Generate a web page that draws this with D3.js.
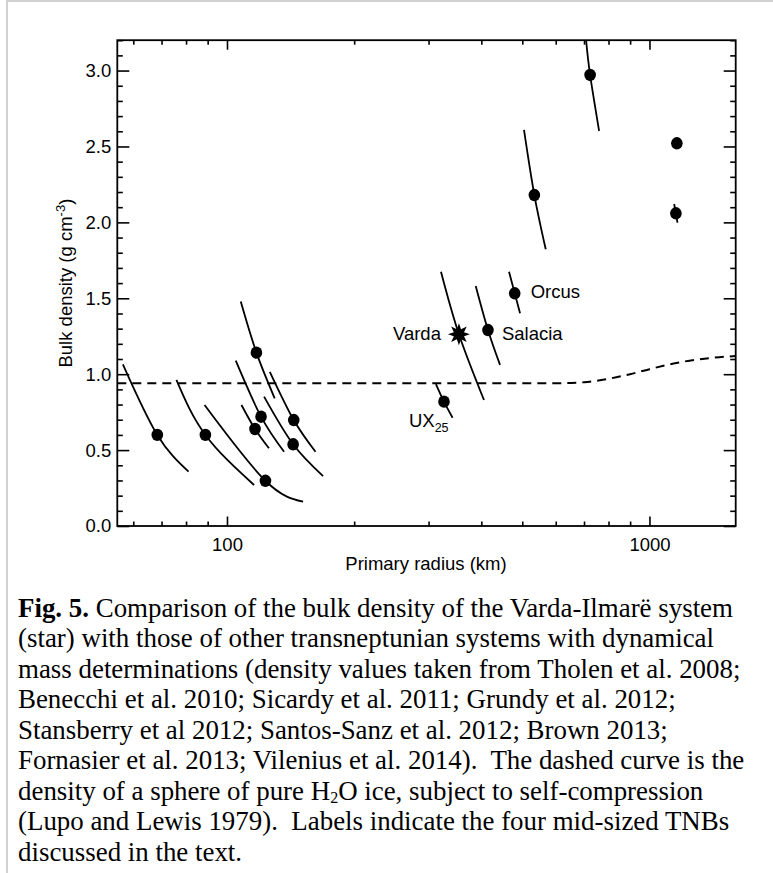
<!DOCTYPE html>
<html>
<head>
<meta charset="utf-8">
<script src="https://cdn.jsdelivr.net/npm/d3@7"></script>
<style>
  html, body { margin: 0; padding: 0; background: #fff; }
  svg { display: block; }
  text { font-family: "Liberation Sans", Arial, Helvetica, sans-serif; fill: #000; }
  .cap { font-family: "Liberation Serif", "Times New Roman", serif; }
</style>
</head>
<body>
<script>
// ---------- data ----------
// each system: [radius km, density g/cm3] for the top end of the uncertainty curve,
// the nominal point and the bottom end of the curve
const systemNames = ["A", "B", "C", "D", "E", "F", "G", "H", "UX25", "Varda", "Salacia", "Orcus", "Q", "H2", "Eris", "Pluto"];
const curveTop = [
  [56.7, 1.065], [75.9, 0.962], [88.5, 0.797], [107.8, 1.478], [104.9, 1.089], [108.2, 0.797],
  [122.4, 0.852], [126.3, 1.016], [312.3, 0.935], [321, 1.675], [387.9, 1.581], [465.1, 1.675],
  [504.7, 2.609], [707.9, 3.2], [1157, 2.55], [1144, 2.121]
];
const nominal = [
  [68.4, 0.60], [88.9, 0.60], [123.3, 0.298], [117.4, 1.142], [120.4, 0.72], [116.5, 0.639],
  [143.4, 0.538], [143.9, 0.698], [326.3, 0.819], [354, 1.263], [414.7, 1.291], [479.8, 1.533],
  [534, 2.18], [723.6, 2.971], [1161, 2.521], [1155, 2.06]
];
const curveBottom = [
  [81.1, 0.358], [115.9, 0.27], [151.4, 0.16], [129.7, 0.841], [136.5, 0.489], [125.7, 0.512],
  [168.8, 0.329], [162, 0.489], [342, 0.713], [405.8, 0.83], [442.9, 1.061], [494, 1.401],
  [568.2, 1.823], [760, 2.602], [1167, 2.49], [1165, 1.998]
];
const markerType = ["dot", "dot", "dot", "dot", "dot", "dot", "dot", "dot", "dot", "star", "dot", "dot", "dot", "dot", "dot", "dot"];

// pure water-ice sphere with self-compression (dashed)
const iceRadius  = [55, 600, 650, 700, 800, 900, 1000, 1200, 1400, 1600];
const iceDensity = [0.94, 0.94, 0.942, 0.947, 0.97, 1.0, 1.033, 1.082, 1.107, 1.12];

// labelled systems
const labelIndex = [11, 10, 9, 8];
const labelText  = ["Orcus", "Salacia", "Varda", "UX"];

const xMajor = [100, 1000];
const xMinor = [60, 70, 80, 90, 200, 300, 400, 500, 600, 700, 800, 900];
const yMajor = [0, 0.5, 1.0, 1.5, 2.0, 2.5, 3.0];
const yMinor = [0.1, 0.2, 0.3, 0.4, 0.6, 0.7, 0.8, 0.9, 1.1, 1.2, 1.3, 1.4, 1.6, 1.7, 1.8, 1.9,
                2.1, 2.2, 2.3, 2.4, 2.6, 2.7, 2.8, 2.9, 3.1, 3.2];

// caption: segments [text, style]  (b = bold, sub = subscript, n = normal)
const captionLines = [
  [["Fig. 5.", "b"], [" Comparison of the bulk density of the Varda-Ilmarë system", "n"]],
  [["(star) with those of other transneptunian systems with dynamical", "n"]],
  [["mass determinations (density values taken from Tholen et al. 2008;", "n"]],
  [["Benecchi et al. 2010; Sicardy et al. 2011; Grundy et al. 2012;", "n"]],
  [["Stansberry et al 2012; Santos-Sanz et al. 2012; Brown 2013;", "n"]],
  [["Fornasier et al. 2013; Vilenius et al. 2014).  The dashed curve is the", "n"]],
  [["density of a sphere of pure H", "n"], ["2", "sub"], ["O ice, subject to self-compression", "n"]],
  [["(Lupo and Lewis 1979).  Labels indicate the four mid-sized TNBs", "n"]],
  [["discussed in the text.", "n"]]
];

// ---------- layout ----------
const W = 773, H = 873;
const L = 117.3, R = 735.7, T = 40.2, B = 526;

const svg = d3.select("body").append("svg").attr("width", W).attr("height", H);

// outer grey frame
svg.append("rect").attr("x", 7).attr("y", 1).attr("width", W + 20).attr("height", H + 20)
  .attr("fill", "none").attr("stroke", "#c4c4c4").attr("stroke-width", 1.5);

const x = d3.scaleLog().domain([55, 1600]).range([L, R]);
const y = d3.scaleLinear().domain([0, 3.2]).range([B, T]);

svg.append("clipPath").attr("id", "clip").append("rect")
  .attr("x", L).attr("y", T).attr("width", R - L).attr("height", B - T);

// axes
const fs = 18.5;
function axisStyle(g) {
  g.select(".domain").remove();
  g.selectAll(".tick line").attr("stroke", "#000").attr("stroke-width", 1.6);
  g.selectAll(".tick text").attr("font-size", fs).attr("font-family", "Liberation Sans, Arial, sans-serif").attr("fill", "#000");
}
svg.append("g").attr("transform", `translate(0,${B})`)
  .call(d3.axisBottom(x).tickValues(xMajor).tickFormat(d3.format("d")).tickSizeInner(-9.5).tickSizeOuter(0).tickPadding(12))
  .call(axisStyle);
svg.append("g").attr("transform", `translate(0,${B})`)
  .call(d3.axisBottom(x).tickValues(xMinor).tickFormat("").tickSizeInner(-4.5).tickSizeOuter(0))
  .call(axisStyle);
svg.append("g").attr("transform", `translate(0,${T})`)
  .call(d3.axisTop(x).tickValues(xMajor).tickFormat("").tickSizeInner(-9.5).tickSizeOuter(0))
  .call(axisStyle);
svg.append("g").attr("transform", `translate(0,${T})`)
  .call(d3.axisTop(x).tickValues(xMinor).tickFormat("").tickSizeInner(-4.5).tickSizeOuter(0))
  .call(axisStyle);
svg.append("g").attr("transform", `translate(${L},0)`)
  .call(d3.axisLeft(y).tickValues(yMajor).tickFormat(d3.format(".1f")).tickSizeInner(-12).tickSizeOuter(0).tickPadding(6))
  .call(axisStyle);
svg.append("g").attr("transform", `translate(${L},0)`)
  .call(d3.axisLeft(y).tickValues(yMinor).tickFormat("").tickSizeInner(-5.5).tickSizeOuter(0))
  .call(axisStyle);
svg.append("g").attr("transform", `translate(${R},0)`)
  .call(d3.axisRight(y).tickValues(yMajor).tickFormat("").tickSizeInner(-12).tickSizeOuter(0))
  .call(axisStyle);
svg.append("g").attr("transform", `translate(${R},0)`)
  .call(d3.axisRight(y).tickValues(yMinor).tickFormat("").tickSizeInner(-5.5).tickSizeOuter(0))
  .call(axisStyle);

// plot frame
svg.append("rect").attr("x", L).attr("y", T).attr("width", R - L).attr("height", B - T)
  .attr("fill", "none").attr("stroke", "#000").attr("stroke-width", 1.8);

// axis titles
svg.append("text").attr("x", (L + R) / 2 - 0.5).attr("y", 570).attr("text-anchor", "middle")
  .attr("font-size", fs).text("Primary radius (km)");
const yl = svg.append("text").attr("transform", `translate(72,${(T + B) / 2}) rotate(-90)`)
  .attr("text-anchor", "middle").attr("font-size", fs);
yl.append("tspan").text("Bulk density (g cm");
yl.append("tspan").attr("dy", -7).attr("font-size", 13).text("-3");
yl.append("tspan").attr("dy", 7).text(")");

const plot = svg.append("g").attr("clip-path", "url(#clip)");

// dashed ice curve
const iceLine = d3.line().x(d => x(d[0])).y(d => y(d[1])).curve(d3.curveMonotoneX);
plot.append("path").datum(iceRadius.map((r, i) => [r, iceDensity[i]]))
  .attr("d", iceLine).attr("fill", "none").attr("stroke", "#000")
  .attr("stroke-width", 2).attr("stroke-dasharray", "9,6");

// uncertainty curves (constant-mass tracks)
const trackLine = d3.line().x(d => x(d[0])).y(d => y(d[1])).curve(d3.curveNatural);
plot.selectAll("path.track").data(systemNames.map((n, i) => [curveTop[i], nominal[i], curveBottom[i]]))
  .join("path").attr("class", "track")
  .attr("d", trackLine).attr("fill", "none").attr("stroke", "#000").attr("stroke-width", 1.8);

// markers
const dots = systemNames.map((n, i) => i).filter(i => markerType[i] === "dot");
plot.selectAll("ellipse.pt").data(dots).join("ellipse").attr("class", "pt")
  .attr("cx", i => x(nominal[i][0])).attr("cy", i => y(nominal[i][1]))
  .attr("rx", 5.8).attr("ry", 6.2).attr("fill", "#000");

const starIdx = markerType.indexOf("star");
const starPts = d3.range(16).map(k => {
  const a = -Math.PI / 2 + k * Math.PI / 8;
  const rr = k % 2 === 0 ? 11 : 5.5;
  return [rr * Math.cos(a), rr * Math.sin(a)];
});
plot.append("path")
  .attr("transform", `translate(${x(nominal[starIdx][0])},${y(nominal[starIdx][1])})`)
  .attr("d", "M" + starPts.map(p => p.join(",")).join("L") + "Z").attr("fill", "#000");

// labels
const labelDx = [16, 14, -18, -35];
const labelDy = [5, 10, 6, 25];
const labelAnchor = ["start", "start", "end", "start"];
labelIndex.forEach((idx, k) => {
  const t = svg.append("text")
    .attr("x", x(nominal[idx][0]) + labelDx[k]).attr("y", y(nominal[idx][1]) + labelDy[k])
    .attr("text-anchor", labelAnchor[k]).attr("font-size", fs).text(labelText[k]);
  if (labelText[k] === "UX") t.append("tspan").attr("dy", 5).attr("font-size", 12.5).text("25");
});

// caption
const cap = svg.append("g");
captionLines.forEach((parts, i) => {
  const t = cap.append("text").attr("class", "cap").attr("x", 18).attr("y", 616.7 + i * 30.5)
    .attr("font-size", 26.9).attr("xml:space", "preserve").style("white-space", "pre");
  let lowered = false;
  parts.forEach(([s, st]) => {
    const sp = t.append("tspan").text(s);
    if (st === "b") sp.attr("font-weight", "bold");
    if (st === "sub") { sp.attr("font-size", 16).attr("dy", 3); lowered = true; }
    else if (lowered) { sp.attr("dy", -3); lowered = false; }
  });
});
</script>
</body>
</html>
